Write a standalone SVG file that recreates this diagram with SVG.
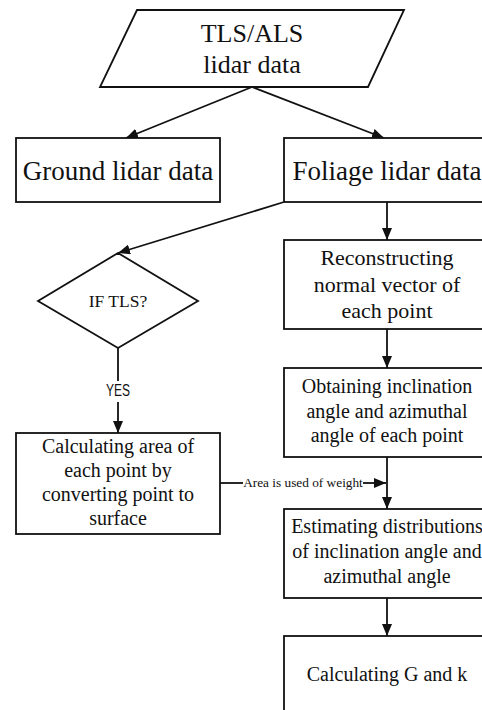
<svg xmlns="http://www.w3.org/2000/svg" width="482" height="710" viewBox="0 0 482 710">
  <style>
    .box { fill: #fff; stroke: #111; stroke-width: 1.8; }
    .t { font-family: "Liberation Serif", "Times New Roman", serif; fill: #111; text-anchor: middle; }
    .s { font-family: "Liberation Sans", Arial, sans-serif; fill: #111; text-anchor: middle; }
    .edge { fill: none; stroke: #111; stroke-width: 1.8; }
  </style>
  <defs>
    <marker id="arrow" viewBox="0 0 12 10" refX="12" refY="5" markerWidth="12" markerHeight="10" markerUnits="userSpaceOnUse" orient="auto">
      <path d="M0,0 L12,5 L0,10 Z" fill="#111"/>
    </marker>
  </defs>
  <rect width="482" height="710" fill="#fff"/>

  <g id="connectors">
    <line class="edge" x1="252" y1="87" x2="126" y2="138" marker-end="url(#arrow)"/>
    <line class="edge" x1="252" y1="87" x2="384" y2="138" marker-end="url(#arrow)"/>
    <line class="edge" x1="284" y1="202" x2="118" y2="253" marker-end="url(#arrow)"/>
    <line class="edge" x1="387" y1="202" x2="387" y2="240" marker-end="url(#arrow)"/>
    <line class="edge" x1="118" y1="348" x2="118" y2="381"/>
    <line class="edge" x1="118" y1="402" x2="118" y2="433" marker-end="url(#arrow)"/>
    <line class="edge" x1="387" y1="329" x2="387" y2="368" marker-end="url(#arrow)"/>
    <line class="edge" x1="387" y1="457" x2="387" y2="509" marker-end="url(#arrow)"/>
    <line class="edge" x1="220" y1="483" x2="243" y2="483"/>
    <line class="edge" x1="363" y1="483" x2="386" y2="483" marker-end="url(#arrow)"/>
    <text class="t" x="303" y="487" font-size="13.3">Area is used of weight</text>
    <line class="edge" x1="387" y1="598" x2="387" y2="636" marker-end="url(#arrow)"/>
    <text class="s" x="118" y="396" font-size="16" textLength="24" lengthAdjust="spacingAndGlyphs">YES</text>
  </g>

  <g id="input">
    <polygon class="box" points="137,10 404,10 368,87 100,87"/>
    <text class="t" x="252" y="42" font-size="26">TLS/ALS</text>
    <text class="t" x="252" y="73" font-size="26">lidar data</text>
  </g>

  <g id="ground">
    <rect class="box" x="16" y="138" width="204" height="64"/>
    <text class="t" x="118" y="180" font-size="27">Ground lidar data</text>
  </g>

  <g id="foliage">
    <rect class="box" x="284" y="138" width="206" height="64"/>
    <text class="t" x="387" y="180" font-size="27">Foliage lidar data</text>
  </g>

  <g id="decision">
    <polygon class="box" points="118,253 198,301 118,348 38,301"/>
    <text class="t" x="118" y="307" font-size="17.5">IF TLS?</text>
  </g>

  <g id="area">
    <rect class="box" x="16" y="433" width="204" height="101"/>
    <text class="t" x="118" y="453" font-size="20">Calculating area of</text>
    <text class="t" x="118" y="477" font-size="20">each point by</text>
    <text class="t" x="118" y="501" font-size="20">converting point to</text>
    <text class="t" x="118" y="525" font-size="20">surface</text>
  </g>

  <g id="normal">
    <rect class="box" x="284" y="240" width="206" height="89"/>
    <text class="t" x="387" y="265" font-size="22">Reconstructing</text>
    <text class="t" x="387" y="292" font-size="22">normal vector of</text>
    <text class="t" x="387" y="318" font-size="22">each point</text>
  </g>

  <g id="angles">
    <rect class="box" x="284" y="368" width="206" height="89"/>
    <text class="t" x="387" y="393" font-size="20">Obtaining inclination</text>
    <text class="t" x="387" y="418" font-size="20">angle and azimuthal</text>
    <text class="t" x="387" y="442" font-size="20">angle of each point</text>
  </g>

  <g id="distributions">
    <rect class="box" x="284" y="509" width="206" height="89"/>
    <text class="t" x="387" y="533" font-size="20">Estimating distributions</text>
    <text class="t" x="387" y="558" font-size="20">of inclination angle and</text>
    <text class="t" x="387" y="583" font-size="20">azimuthal angle</text>
  </g>

  <g id="result">
    <rect class="box" x="284" y="636" width="206" height="90"/>
    <text class="t" x="387" y="681" font-size="20">Calculating G and k</text>
  </g>
</svg>
